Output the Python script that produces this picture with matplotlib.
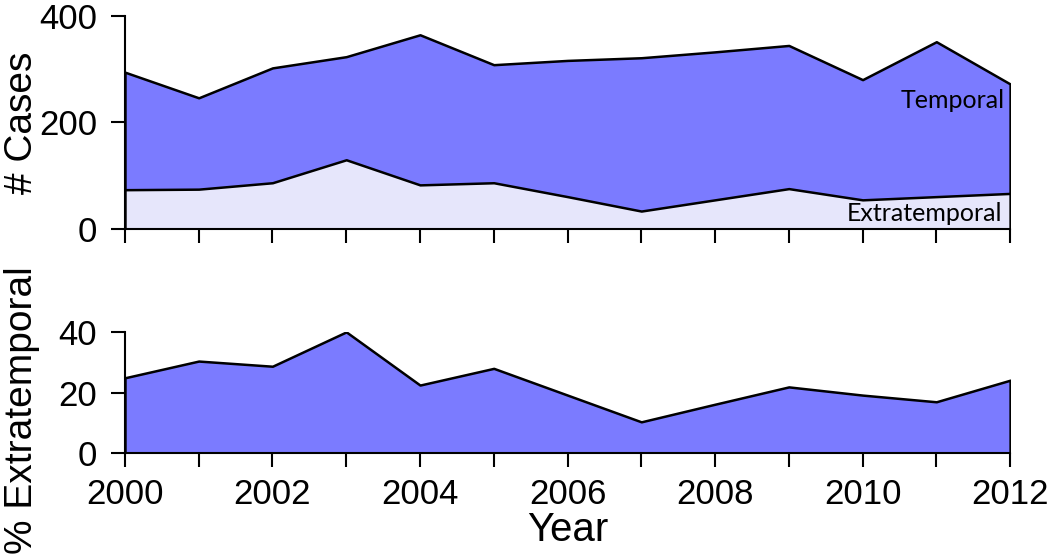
import matplotlib
matplotlib.use("Agg")
import matplotlib.pyplot as plt
import numpy as np

years = [2000, 2001, 2002, 2003, 2004, 2005, 2006, 2007, 2008, 2009, 2010, 2011, 2012]
total_cases = [294, 246, 302, 323, 364, 308, 316, 321, 332, 344, 280, 351, 272]
extratemporal_cases = [74, 75, 87, 130, 83, 87, 61, 34, 55, 76, 55, 61, 67]
pct_extratemporal = [24.9, 30.4, 28.7, 40.0, 22.5, 28.0, 19.2, 10.4, 16.2, 21.9, 19.2, 17.0, 24.1]
xticks = [2000, 2002, 2004, 2006, 2008, 2010, 2012]

plt.rcParams['font.family'] = ['Liberation Sans', 'DejaVu Sans']
dark = '#7b7bff'
light = '#e6e6fb'

fig = plt.figure(figsize=(10.5, 5.55), dpi=100)
ax1 = fig.add_axes([0.119, 0.587, 0.843, 0.385])
ax2 = fig.add_axes([0.119, 0.183, 0.843, 0.219])

x = np.array(years)
ax1.fill_between(x, 0, total_cases, facecolor=dark, edgecolor='black', linewidth=1.8, zorder=1)
ax1.fill_between(x, 0, extratemporal_cases, facecolor=light, edgecolor='black', linewidth=1.8, zorder=2)
ax1.set_ylim(0, 400)
ax1.set_yticks([0, 200, 400])
ax1.set_xlim(2000, 2012)
ax1.set_xticks(years)
ax1.set_xticklabels([])
ax1.set_ylabel('# Cases', fontsize=28)
ax1.yaxis.set_label_coords(-0.096, 0.5)
ax1.text(2011.93, 226, 'Temporal', fontsize=18, family=['Lato', 'DejaVu Sans'],
         ha='right', va='baseline', color='black', zorder=5)
ax1.text(2011.9, 15, 'Extratemporal', fontsize=18, family=['Lato', 'DejaVu Sans'],
         ha='right', va='baseline', color='black', zorder=5)

ax2.fill_between(x, 0, pct_extratemporal, facecolor=dark, edgecolor='black', linewidth=1.8, zorder=1)
ax2.set_ylim(0, 40)
ax2.set_yticks([0, 20, 40])
ax2.set_xlim(2000, 2012)
ax2.set_xticks(years)
ax2.set_xticklabels([str(y) if y in xticks else '' for y in years])
ax2.set_xlabel('Year', fontsize=29, labelpad=0)
ax2.set_ylabel('% Extratemporal', fontsize=28)
ax2.yaxis.set_label_coords(-0.096, 0.36)

for ax in (ax1, ax2):
    ax.spines['top'].set_visible(False)
    ax.spines['right'].set_visible(False)
    ax.spines['left'].set_linewidth(1.5)
    ax.spines['bottom'].set_linewidth(1.5)
    ax.tick_params(direction='out', length=10, width=1.5, labelsize=25)
    ax.tick_params(axis='y', pad=10)
    ax.tick_params(axis='x', pad=8)
    ax.margins(0)

fig.savefig('out.png', dpi=100)
